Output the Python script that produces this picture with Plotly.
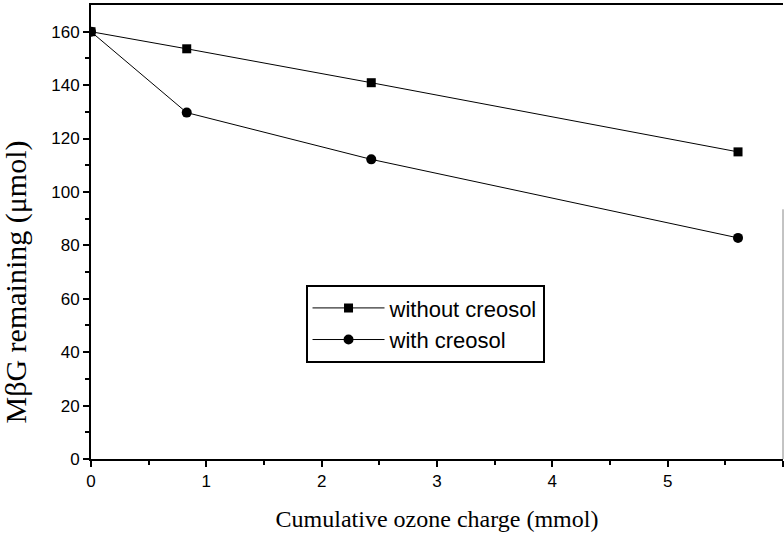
import plotly.graph_objects as go

x_without = [0, 0.83, 2.43, 5.61]
y_without = [160, 153.6, 140.9, 115]
x_with = [0, 0.83, 2.43, 5.61]
y_with = [160, 129.7, 112.2, 82.8]

fig = go.Figure()
fig.add_trace(go.Scatter(x=x_without, y=y_without, mode="lines+markers", name="without creosol",
                         line=dict(color="black", width=1),
                         marker=dict(symbol="square", size=9, color="black")))
fig.add_trace(go.Scatter(x=x_with, y=y_with, mode="lines+markers", name="with creosol",
                         line=dict(color="black", width=1),
                         marker=dict(symbol="circle", size=10, color="black")))

tickfont = dict(family="Liberation Sans, Arial", size=17, color="black")

fig.update_xaxes(range=[0, 6], tickmode="linear", tick0=0, dtick=1,
                 showline=True, linecolor="black", linewidth=2, mirror=True,
                 ticks="outside", ticklen=6, tickwidth=2, tickcolor="black",
                 minor=dict(ticks="outside", dtick=0.5, ticklen=4, tickwidth=2, tickcolor="black"),
                 showgrid=False, zeroline=False, tickfont=tickfont,
                 title=dict(text="Cumulative ozone charge (mmol)",
                            font=dict(family="Liberation Serif, Times New Roman", size=24, color="black"),
                            standoff=20))
fig.update_yaxes(range=[0, 170], tickmode="array", tickvals=[0, 20, 40, 60, 80, 100, 120, 140, 160],
                 showline=True, linecolor="black", linewidth=2,
                 ticks="outside", ticklen=6, tickwidth=2, tickcolor="black",
                 minor=dict(ticks="outside", tickvals=[10, 30, 50, 70, 90, 110, 130, 150], ticklen=4, tickwidth=2, tickcolor="black"),
                 showgrid=False, zeroline=False, tickfont=tickfont)

fig.add_annotation(text="MβG remaining (μmol)", textangle=-90, showarrow=False,
                   xref="paper", yref="paper", x=-0.109, y=0.39, xanchor="center", yanchor="middle",
                   font=dict(family="Liberation Serif, Times New Roman", size=30, color="black"))

fig.add_shape(type="line", xref="paper", yref="paper", x0=1, x1=1, y0=0, y1=0.55,
              line=dict(color="#888888", width=1))

fig.update_layout(
    width=784, height=533,
    margin=dict(l=91, r=1, t=5, b=74),
    paper_bgcolor="white", plot_bgcolor="white",
    showlegend=True,
    legend=dict(x=0.31, y=0.383, xanchor="left", yanchor="top",
                bgcolor="white", bordercolor="black", borderwidth=2,
                font=dict(family="Liberation Sans, Arial", size=22, color="black"),
                itemwidth=72, tracegroupgap=0),
)

fig.write_html("out.html")
